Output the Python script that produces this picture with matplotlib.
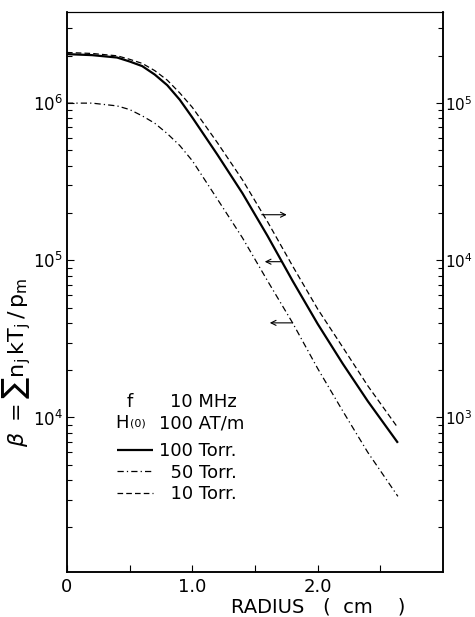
import matplotlib
matplotlib.use("Agg")
import matplotlib.pyplot as plt
from matplotlib.ticker import LogLocator, LogFormatterMathtext, FixedLocator, FixedFormatter, NullFormatter

# ---- data ----
radius = [0, 0.2, 0.4, 0.5, 0.6, 0.7, 0.8, 0.9, 1.0, 1.2, 1.4, 1.6, 1.8, 2.0, 2.2, 2.4, 2.64]
beta_100 = [2.05e6, 2.02e6, 1.95e6, 1.84e6, 1.72e6, 1.52e6, 1.30e6, 1.05e6, 8.1e5,
            4.7e5, 2.67e5, 1.43e5, 7.4e4, 3.94e4, 2.20e4, 1.27e4, 6.9e3]      # left axis
beta_50 = [1.0e6, 1.0e6, 9.6e5, 9.1e5, 8.3e5, 7.45e5, 6.4e5, 5.37e5, 4.3e5,
           2.45e5, 1.39e5, 7.4e4, 4.0e4, 2.05e4, 1.10e4, 6.0e3, 3.15e3]      # left axis
beta_10 = [2.1e5, 2.07e5, 2.0e5, 1.9e5, 1.79e5, 1.61e5, 1.40e5, 1.16e5, 9.4e4,
           5.6e4, 3.25e4, 1.76e4, 9.2e3, 4.9e3, 2.80e3, 1.59e3, 8.6e2]       # right axis

labels = ["100 Torr.", "  50 Torr.", "  10 Torr."]
x_ticks = [0, 1.0, 2.0]
x_tick_labels = ["0", "1.0", "2.0"]
x_minor = [0.5, 1.5, 2.5]
left_lim = (1.04e3, 3.8e6)
right_lim = (1.04e2, 3.8e5)

# arrows: (tail, head) in data coords
arrow_right = ((1.554, 1.95e5), (1.753, 1.95e5))       # right axis indicator (10 Torr)
arrow_left1 = ((1.713, 9.8e4), (1.578, 9.8e4))         # 100 Torr
arrow_left2 = ((1.80, 4.0e4), (1.618, 4.0e4))          # 50 Torr

plt.rcParams['font.family'] = ['DejaVu Sans']
plt.rcParams['mathtext.fontset'] = 'dejavusans'

fig = plt.figure(figsize=(4.75, 6.17), dpi=100)
W, H = 475, 617
L, R, T, B = 67, 443, 12, 572
ax = fig.add_axes([L / W, (H - B) / H, (R - L) / W, (B - T) / H])
ax2 = ax.twinx()

ax.set_yscale('log')
ax2.set_yscale('log')
ax.set_xlim(0, 3.0)
ax.set_ylim(*left_lim)
ax2.set_ylim(*right_lim)

l1, = ax.plot(radius, beta_100, color='black', lw=1.6, solid_capstyle='butt')
l2, = ax.plot(radius, beta_50, color='black', lw=0.9, dashes=[5, 2.5, 1, 2.5])
l3, = ax2.plot(radius, beta_10, color='black', lw=0.9, dashes=[4.5, 2.5])

for a in (ax, ax2):
    for s in a.spines.values():
        s.set_linewidth(1.1)
    a.spines['top'].set_linewidth(0.8)

for a, size, pad in ((ax, 12, 3), (ax2, 11, 1.5)):
    a.yaxis.set_major_locator(LogLocator(base=10, numticks=10))
    a.yaxis.set_minor_locator(LogLocator(base=10, subs=range(2, 10), numticks=20))
    a.yaxis.set_major_formatter(LogFormatterMathtext())
    a.yaxis.set_minor_formatter(NullFormatter())
    a.tick_params(axis='y', which='major', direction='in', length=5, width=0.8, labelsize=size, pad=pad)
    a.tick_params(axis='y', which='minor', direction='in', length=3.5, width=0.8)

ax.xaxis.set_major_locator(FixedLocator(x_ticks))
ax.xaxis.set_major_formatter(FixedFormatter(x_tick_labels))
ax.xaxis.set_minor_locator(FixedLocator(x_minor))
ax.tick_params(axis='x', which='both', direction='in', length=5, width=0.8, labelsize=13, pad=4, top=False)

ax.set_xlabel("RADIUS   (  cm    )", fontsize=14, labelpad=0)
ax.xaxis.set_label_coords((318 - L) / (R - L), -0.045)

fig.text(17 / W, 1 - 362 / H, r'$\beta\ =\sum\mathregular{n_j\,kT_j\,/\,p_m}$', rotation=90,
         ha='center', va='center', fontsize=16)

# arrows
for (tail, head) in (arrow_right, arrow_left1, arrow_left2):
    ax.annotate('', xy=head, xytext=tail,
                arrowprops=dict(arrowstyle='->', lw=0.8, color='black',
                                shrinkA=0, shrinkB=0, mutation_scale=9))

# header text of the key
def axfrac(px, py):
    return ((px - L) / (R - L), (B - py) / (B - T))

tkw = dict(transform=ax.transAxes, ha='left', va='center')
ax.text(*axfrac(127, 402), "f", fontsize=13, **tkw)
ax.text(*axfrac(170, 402), "10 MHz", fontsize=13, **tkw)
ax.text(*axfrac(115, 423), "H", fontsize=13, **tkw)
ax.text(*axfrac(130, 424), "(0)", fontsize=8, **tkw)
ax.text(*axfrac(159, 423), "100 AT/m", fontsize=13, **tkw)

leg = ax2.legend([l1, l2, l3], labels, loc='upper left',
                 bbox_to_anchor=axfrac(117, 442), frameon=False, fontsize=13,
                 handlelength=2.0, handletextpad=0.3, labelspacing=0.2,
                 borderpad=0, borderaxespad=0)

fig.savefig("out.png", dpi=100)
